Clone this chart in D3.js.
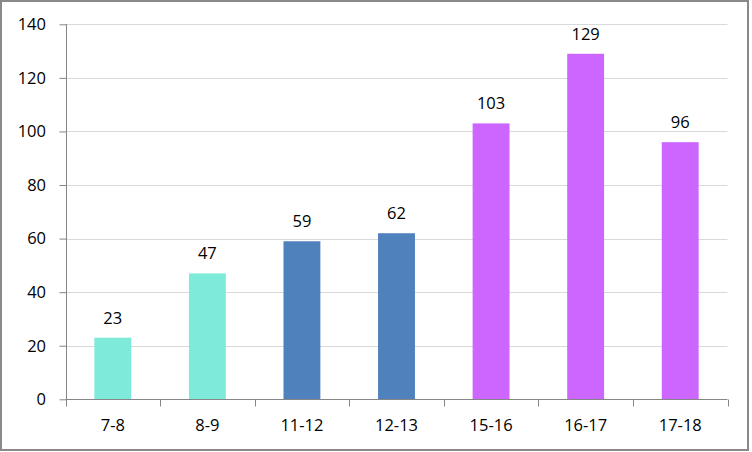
<!DOCTYPE html>
<html><head><meta charset="utf-8">
<script src="https://cdn.jsdelivr.net/npm/d3@7"></script>
<style>body{margin:0;background:#fff}svg{display:block}</style>
</head><body>
<script>
const categories = ["7-8","8-9","11-12","12-13","15-16","16-17","17-18"];
const values = [23,47,59,62,103,129,96];
const colors = ["#7EEAD9","#7EEAD9","#4F81BD","#4F81BD","#CC66FF","#CC66FF","#CC66FF"];
const yTicks = [0,20,40,60,80,100,120,140];

(function(){
const W=752,H=452;
const svg=d3.select("body").append("svg").attr("width",W).attr("height",H);
svg.append("rect").attr("x",1).attr("y",1).attr("width",747).attr("height",449)
  .attr("fill","#fff").attr("stroke","#898989").attr("stroke-width",2);

const pL=65.5,pR=727.5,pT=24.3,pB=399.3;
const x=d3.scaleBand().domain(categories).range([pL,pR]).paddingInner(0.61).paddingOuter(0.305);
const y=d3.scaleLinear().domain([0,140]).range([pB,pT]);
const font="'Open Sans', sans-serif";

// gridlines
svg.append("g").selectAll("line").data(yTicks.filter(d=>d>0)).join("line")
  .attr("x1",pL).attr("x2",pR).attr("y1",d=>Math.round(y(d))+0.5).attr("y2",d=>Math.round(y(d))+0.5)
  .attr("stroke","#D9D9D9").attr("stroke-width",1);

// bars
svg.append("g").selectAll("rect").data(values).join("rect")
  .attr("x",(d,i)=>x(categories[i])).attr("width",x.bandwidth())
  .attr("y",d=>y(d)).attr("height",d=>pB-y(d))
  .attr("fill",(d,i)=>colors[i]);

// value labels
svg.append("g").selectAll("text").data(values).join("text")
  .attr("x",(d,i)=>x(categories[i])+x.bandwidth()/2).attr("y",d=>y(d)-14)
  .attr("text-anchor","middle").attr("font-family",font).attr("font-size",16.5).attr("fill","#000")
  .text(d=>d);

// y axis
const yAxis=d3.axisLeft(y).tickValues(yTicks).tickSize(7).tickPadding(13.5);
const gy=svg.append("g").attr("transform",`translate(${Math.round(pL)+0.5},0)`).call(yAxis);
gy.select(".domain").attr("stroke","#868686").attr("d",`M0,${y(140)}V${pB}`);
gy.selectAll(".tick line").attr("stroke","#868686");
gy.selectAll("text").attr("font-family",font).attr("font-size",16.5).attr("fill","#000");

// x axis
const xAxis=d3.axisBottom(x).tickSize(0).tickPadding(20);
const gx=svg.append("g").attr("transform",`translate(0,${Math.round(pB)+0.5})`).call(xAxis);
gx.select(".domain").attr("stroke","#868686").attr("d",`M${pL},0H${pR}`);
gx.selectAll("text").attr("font-family",font).attr("font-size",16.5).attr("fill","#000");
// category boundary ticks
const bounds=categories.map(c=>x(c)-x.step()*x.paddingInner()/2).concat([pR]);
gx.append("g").selectAll("line").data(bounds).join("line")
  .attr("x1",d=>Math.round(d)+0.5).attr("x2",d=>Math.round(d)+0.5).attr("y1",0).attr("y2",7)
  .attr("stroke","#868686");
})();
</script>
</body></html>
